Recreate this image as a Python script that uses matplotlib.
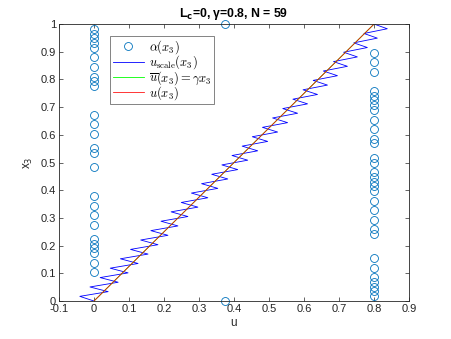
import numpy as np
import matplotlib
matplotlib.use('Agg')
from matplotlib import pyplot as plt
from matplotlib.ticker import FuncFormatter

plt.rcParams['font.family'] = ['Liberation Sans', 'DejaVu Sans']
plt.rcParams['mathtext.fontset'] = 'cm'
plt.rcParams['axes.unicode_minus'] = False

gamma = 0.8

# grid of x3 values (N = 59)
x3 = np.array([
    0.0000, 0.0172, 0.0345, 0.0517, 0.0690, 0.0862, 0.1034, 0.1207, 0.1379, 0.1552,
    0.1724, 0.1897, 0.2069, 0.2241, 0.2414, 0.2586, 0.2759, 0.2931, 0.3103, 0.3276,
    0.3448, 0.3621, 0.3793, 0.3966, 0.4138, 0.4310, 0.4483, 0.4655, 0.4828, 0.5000,
    0.5172, 0.5345, 0.5517, 0.5690, 0.5862, 0.6034, 0.6207, 0.6379, 0.6552, 0.6724,
    0.6897, 0.7069, 0.7241, 0.7414, 0.7586, 0.7759, 0.7931, 0.8103, 0.8276, 0.8448,
    0.8621, 0.8793, 0.8966, 0.9138, 0.9310, 0.9483, 0.9655, 0.9828, 1.0000])

# alpha(x3)
alpha = np.array([
    0.375, 0.8, 0.8, 0.8, 0.8, 0.8, 0.0, 0.8, 0.0, 0.8,
    0.0, 0.0, 0.0, 0.0, 0.8, 0.8, 0.0, 0.8, 0.0, 0.8,
    0.0, 0.8, 0.0, 0.8, 0.8, 0.8, 0.8, 0.8, 0.0, 0.8,
    0.8, 0.0, 0.0, 0.8, 0.8, 0.0, 0.8, 0.0, 0.8, 0.0,
    0.8, 0.8, 0.8, 0.8, 0.8, 0.0, 0.0, 0.0, 0.8, 0.0,
    0.8, 0.0, 0.8, 0.0, 0.0, 0.0, 0.0, 0.0, 0.375])

# u_scale(x3), the zigzag (its own x3 points)
x3_zz = np.array([
    0.0000, 0.0169, 0.0339, 0.0508, 0.0678, 0.0847, 0.1017, 0.1186, 0.1356, 0.1525,
    0.1695, 0.1864, 0.2034, 0.2203, 0.2373, 0.2542, 0.2712, 0.2881, 0.3051, 0.3220,
    0.3390, 0.3559, 0.3729, 0.3898, 0.4068, 0.4237, 0.4407, 0.4576, 0.4746, 0.4915,
    0.5085, 0.5254, 0.5424, 0.5593, 0.5763, 0.5932, 0.6102, 0.6271, 0.6441, 0.6610,
    0.6780, 0.6949, 0.7119, 0.7288, 0.7458, 0.7627, 0.7797, 0.7966, 0.8136, 0.8305,
    0.8475, 0.8644, 0.8814, 0.8983, 0.9153, 0.9322, 0.9492, 0.9661, 0.9831, 1.0000])
u_scale = np.array([
    0.0000, -0.0405, 0.0405, -0.0115, 0.0690, 0.0175, 0.0974, 0.0464, 0.1259, 0.0754,
    0.1544, 0.1044, 0.1828, 0.1334, 0.2113, 0.1624, 0.2398, 0.1914, 0.2683, 0.2203,
    0.2968, 0.2493, 0.3252, 0.2783, 0.3537, 0.3073, 0.3822, 0.3363, 0.4106, 0.3653,
    0.4391, 0.3942, 0.4676, 0.4232, 0.4961, 0.4522, 0.5245, 0.4812, 0.5530, 0.5102,
    0.5815, 0.5392, 0.6100, 0.5681, 0.6384, 0.5971, 0.6669, 0.6261, 0.6954, 0.6551,
    0.7239, 0.6841, 0.7523, 0.7131, 0.7808, 0.7421, 0.8093, 0.7711, 0.8378, 0.8000])

ubar = gamma * x3

fig = plt.figure(figsize=(4.52, 3.39), dpi=100)
ax = fig.add_axes([0.1305, 0.112, 0.7745, 0.817])

ax.plot(alpha, x3, 'o', mfc='none', mec=(0, 0.447, 0.741), ms=5.7, mew=0.6,
        clip_on=False, label=r'$\alpha(x_3)$')
ax.plot(u_scale, x3_zz, color='b', lw=0.6, label=r'$u_{\rm scale}(x_3)$')
ax.plot(ubar, x3, color=(0, 1, 0), lw=0.6, label=r'$\overline{u}(x_3) = \gamma x_3$')
ax.plot(ubar, x3, color='r', lw=0.55, label=r'$u(x_3)$')

ax.set_xlim(-0.1, 0.9)
ax.set_ylim(0, 1)
ax.set_xticks(np.arange(-0.1, 0.91, 0.1))
ax.set_yticks(np.arange(0, 1.01, 0.1))
fmt = FuncFormatter(lambda v, p: '%g' % round(v, 2))
ax.xaxis.set_major_formatter(fmt)
ax.yaxis.set_major_formatter(fmt)
ax.tick_params(direction='in', top=True, right=True, length=3, width=0.5,
               labelsize=8, color='0.15', labelcolor='0.15', pad=2)
for s in ax.spines.values():
    s.set_linewidth(0.6)
    s.set_color('0.15')

ax.set_xlabel('u', fontsize=8.5, color='0.15', labelpad=2)
ax.set_ylabel('x$_3$', fontsize=8.5, color='0.15', labelpad=4, math_fontfamily='dejavusans')
ax.set_title(r'L$_\mathbf{c}$=0, γ=0.8, N = 59', fontsize=8.8, fontweight='bold',
             pad=5, math_fontfamily='dejavusans')

leg = ax.legend(loc='upper left', bbox_to_anchor=(0.146, 0.957), fontsize=9,
                fancybox=False, borderaxespad=0, handlelength=2.5, labelspacing=-0.2,
                handletextpad=0.4, borderpad=0.2, numpoints=1)
leg.get_frame().set_edgecolor('0.15')
leg.get_frame().set_linewidth(0.5)

fig.savefig('out.png', dpi=100)
